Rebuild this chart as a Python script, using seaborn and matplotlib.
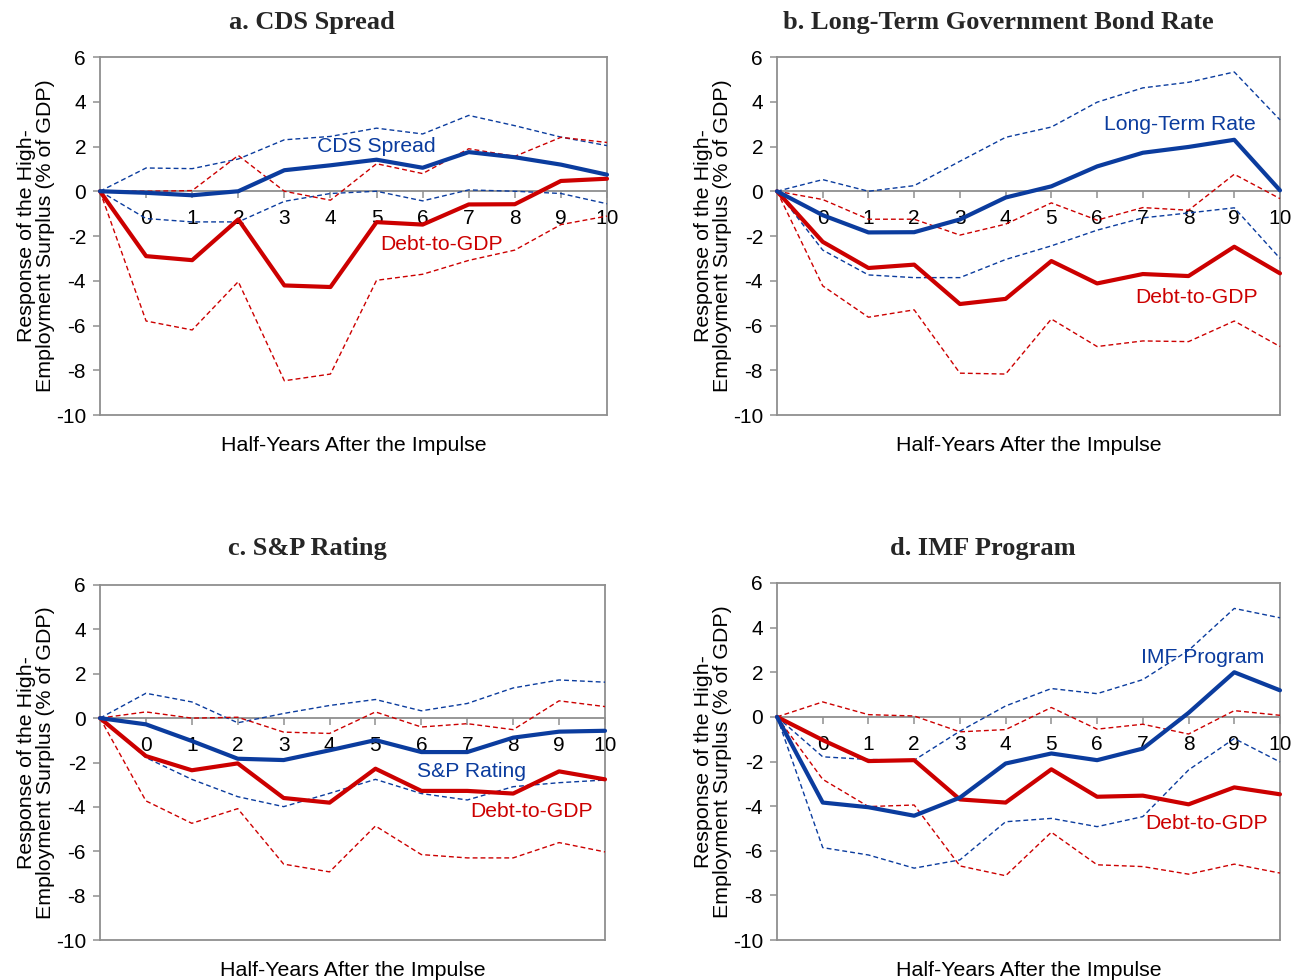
import numpy as np
import pandas as pd
import matplotlib
matplotlib.use("Agg")
import matplotlib.pyplot as plt
import seaborn as sns

# ---------------- data ----------------
periods = [-1, 0, 1, 2, 3, 4, 5, 6, 7, 8, 9, 10]
tick_labels = ["0", "1", "2", "3", "4", "5", "6", "7", "8", "9", "10"]

# a. CDS Spread
a_var = [0, -0.07, -0.18, 0.00, 0.94, 1.16, 1.41, 1.05, 1.75, 1.52, 1.19, 0.74]
a_var_hi = [0, 1.04, 1.01, 1.44, 2.30, 2.45, 2.82, 2.56, 3.39, 2.93, 2.42, 2.04]
a_var_lo = [0, -1.22, -1.37, -1.37, -0.45, -0.10, 0.00, -0.43, 0.06, 0.00, -0.10, -0.56]
a_debt = [0, -2.90, -3.08, -1.26, -4.21, -4.28, -1.38, -1.49, -0.59, -0.58, 0.46, 0.56]
a_debt_hi = [0, 0.00, 0.03, 1.60, 0.00, -0.40, 1.23, 0.79, 1.90, 1.56, 2.41, 2.18]
a_debt_lo = [0, -5.80, -6.20, -4.04, -8.47, -8.17, -3.98, -3.71, -3.09, -2.63, -1.49, -1.11]

# b. Long-Term Government Bond Rate
b_var = [0, -1.07, -1.84, -1.83, -1.26, -0.28, 0.22, 1.11, 1.72, 1.98, 2.30, 0.04]
b_var_hi = [0, 0.52, 0.00, 0.25, 1.34, 2.41, 2.87, 3.98, 4.62, 4.87, 5.33, 3.19]
b_var_lo = [0, -2.63, -3.74, -3.86, -3.86, -3.05, -2.44, -1.74, -1.19, -0.97, -0.74, -3.00]
b_debt = [0, -2.26, -3.43, -3.28, -5.04, -4.81, -3.12, -4.12, -3.70, -3.79, -2.48, -3.67]
b_debt_hi = [0, -0.37, -1.25, -1.25, -1.96, -1.47, -0.52, -1.29, -0.73, -0.85, 0.76, -0.33]
b_debt_lo = [0, -4.23, -5.63, -5.30, -8.13, -8.17, -5.71, -6.94, -6.69, -6.72, -5.80, -6.94]

# c. S&P Rating
c_var = [0, -0.28, -1.03, -1.83, -1.89, -1.45, -0.99, -1.53, -1.53, -0.88, -0.61, -0.57]
c_var_hi = [0, 1.12, 0.73, -0.21, 0.21, 0.57, 0.84, 0.33, 0.66, 1.36, 1.72, 1.62]
c_var_lo = [0, -1.78, -2.76, -3.54, -3.99, -3.39, -2.76, -3.40, -3.69, -3.09, -2.91, -2.79]
c_debt = [0, -1.71, -2.35, -2.04, -3.60, -3.81, -2.28, -3.28, -3.28, -3.40, -2.40, -2.76]
c_debt_hi = [0, 0.28, 0.00, 0.04, -0.63, -0.69, 0.28, -0.40, -0.25, -0.52, 0.78, 0.52]
c_debt_lo = [0, -3.73, -4.74, -4.08, -6.58, -6.93, -4.86, -6.15, -6.30, -6.30, -5.61, -6.03]

# d. IMF Program
d_var = [0, -3.84, -4.05, -4.43, -3.62, -2.09, -1.64, -1.94, -1.42, 0.18, 2.00, 1.19]
d_var_hi = [0, -1.79, -1.91, -1.94, -0.64, 0.49, 1.27, 1.04, 1.67, 2.98, 4.86, 4.44]
d_var_lo = [0, -5.86, -6.19, -6.78, -6.41, -4.70, -4.55, -4.92, -4.47, -2.38, -0.97, -2.02]
d_debt = [0, -1.04, -1.98, -1.94, -3.70, -3.84, -2.35, -3.58, -3.53, -3.92, -3.16, -3.47]
d_debt_hi = [0, 0.67, 0.10, 0.04, -0.67, -0.57, 0.42, -0.55, -0.33, -0.77, 0.28, 0.07]
d_debt_lo = [0, -2.80, -4.02, -3.95, -6.68, -7.12, -5.17, -6.63, -6.71, -7.05, -6.60, -7.00]

titles = ["a. CDS Spread", "b. Long-Term Government Bond Rate",
          "c. S&P Rating", "d. IMF Program"]
var_names = ["CDS Spread", "Long-Term Rate", "S&P Rating", "IMF Program"]
debt_name = "Debt-to-GDP"
xlabel = "Half-Years After the Impulse"
ylabel = "Response of the High-\nEmployment Surplus (% of GDP)"

# ---------------- style ----------------
sns.set_theme(style="white")
plt.rcParams["font.family"] = ["Liberation Sans", "DejaVu Sans"]
plt.rcParams["axes.unicode_minus"] = False

BLUE = "#0B3C9E"
RED = "#CC0000"
GRAY = "#8F8F8F"

fig = plt.figure(figsize=(12.93, 9.80), dpi=100)

axes_rects = [
    [100 / 1293, 1 - 415 / 980, 507 / 1293, 358 / 980],
    [777 / 1293, 1 - 415 / 980, 503 / 1293, 358 / 980],
    [100 / 1293, 1 - 940 / 980, 505 / 1293, 355 / 980],
    [777 / 1293, 1 - 940 / 980, 503 / 1293, 357 / 980],
]
title_pos = [(312, 22), (998, 22), (307, 549), (983, 549)]
var_text_pos = [(5.0, 2.0), (7.82, 3.0), (7.10, -2.42), (8.30, 2.68)]
debt_text_pos = [(6.40, -2.40), (8.17, -4.73), (8.41, -4.22), (8.39, -4.76)]

panels = [
    (a_var, a_var_hi, a_var_lo, a_debt, a_debt_hi, a_debt_lo),
    (b_var, b_var_hi, b_var_lo, b_debt, b_debt_hi, b_debt_lo),
    (c_var, c_var_hi, c_var_lo, c_debt, c_debt_hi, c_debt_lo),
    (d_var, d_var_hi, d_var_lo, d_debt, d_debt_hi, d_debt_lo),
]

dash = (0, (3.5, 2.2))

for i, (rect, series) in enumerate(zip(axes_rects, panels)):
    ax = fig.add_axes(rect)
    v, vh, vl, dbt, dh, dl = series
    df = pd.DataFrame({"period": periods, "var": v, "var_hi": vh, "var_lo": vl,
                       "debt": dbt, "debt_hi": dh, "debt_lo": dl})
    for col, colr in [("var_hi", BLUE), ("var_lo", BLUE), ("debt_hi", RED), ("debt_lo", RED)]:
        sns.lineplot(data=df, x="period", y=col, ax=ax, color=colr, lw=1.0,
                     linestyle=dash, zorder=3, clip_on=False)
    sns.lineplot(data=df, x="period", y="debt", ax=ax, color=RED, lw=3.0, zorder=4,
                 clip_on=False)
    sns.lineplot(data=df, x="period", y="var", ax=ax, color=BLUE, lw=3.0, zorder=4,
                 clip_on=False)

    ax.set_xlim(-1, 10)
    ax.set_ylim(-10, 6)
    ax.set_yticks(np.arange(-10, 7, 2))
    ax.set_yticklabels([str(t) for t in range(-10, 7, 2)])
    ax.set_xticks(range(0, 11))
    ax.set_xticklabels(tick_labels)

    for s in ["left", "right", "top", "bottom"]:
        ax.spines[s].set_color(GRAY)
        ax.spines[s].set_linewidth(1.3)
        ax.spines[s].set_visible(True)
    ax.spines["bottom"].set_position(("data", 0))
    ax.axhline(-10, color=GRAY, lw=1.3, clip_on=False, zorder=2.5)

    ax.tick_params(axis="x", direction="out", length=5, width=1.1, color=GRAY,
                   pad=8, labelsize=15, labelcolor="black", bottom=True)
    ax.tick_params(axis="y", direction="out", length=5, width=1.1, color=GRAY,
                   pad=5, labelsize=15, labelcolor="black", left=True)

    ax.set_xlabel(xlabel, fontsize=15.4, color="black", va="center")
    ax.xaxis.set_label_coords(0.5, -30 / (rect[3] * 980))
    ax.set_ylabel(ylabel, fontsize=15.4, color="black", va="center", linespacing=1.05)
    ax.yaxis.set_label_coords(-64 / (rect[2] * 1293), 0.5)

    ax.text(*var_text_pos[i], var_names[i], color=BLUE, fontsize=15.2,
            ha="center", va="center", zorder=5)
    ax.text(*debt_text_pos[i], debt_name, color=RED, fontsize=15.2,
            ha="center", va="center", zorder=5)

    tx, ty = title_pos[i]
    fig.text(tx / 1293, 1 - ty / 980, titles[i], ha="center", va="center",
             fontsize=19, fontweight="bold", family=["Liberation Serif", "DejaVu Serif"])

fig.savefig("out.png", dpi=100, facecolor="white")
